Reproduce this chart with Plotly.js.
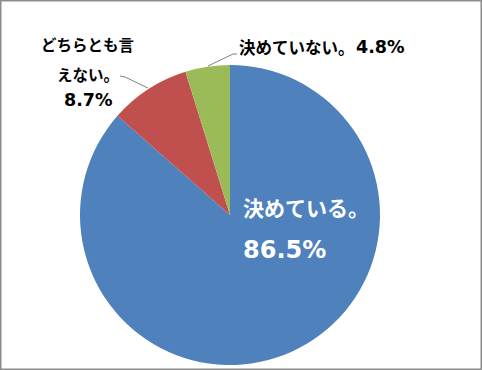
<!DOCTYPE html>
<html><head><meta charset="utf-8">
<script src="https://cdn.plot.ly/plotly-3.0.1.min.js"></script>
<style>html,body{margin:0;padding:0;background:#fff}#chart{width:482px;height:370px}</style>
</head><body><div id="chart"></div>
<script>
const categories = ["決めている。", "どちらとも言えない。", "決めていない。"];
const values = [86.5, 8.7, 4.8];
const colors = ["#4F81BD", "#C0504D", "#9BBB59"];
const W = 482, H = 370;
const px = x => x / W, py = y => 1 - y / H;
const JP = "Noto Sans CJK JP, sans-serif";
const NUM = "DejaVu Sans, Verdana, sans-serif";
const pct = v => v.toFixed(1) + "%";

const data = [{
  type: "pie",
  labels: categories,
  values: values,
  sort: false,
  direction: "clockwise",
  rotation: 0,
  textinfo: "none",
  hoverinfo: "label+percent",
  marker: {colors: colors, line: {width: 0}},
  domain: {x: [px(80), px(380)], y: [py(365), py(65)]},
  showlegend: false
}];

function ann(x, y, text, size, family, color, xanchor) {
  return {xref: "paper", yref: "paper", x: px(x), y: py(y), text: "<b>" + text + "</b>", showarrow: false,
    xanchor: xanchor || "center", yanchor: "middle",
    font: {family: family, size: size, color: color || "#000", weight: "bold"}};
}
const annotations = [
  ann(241, 207, categories[0], 21, JP, "#fff", "left"),
  ann(241, 250, pct(values[0]), 24, NUM, "#fff", "left"),
  ann(87, 44, "どちらとも言", 15.5, JP),
  ann(88, 74, "えない。", 15.5, JP),
  ann(88, 100, pct(values[1]), 17.5, NUM),
  ann(237, 47, categories[2], 16.5, JP, "#000", "left"),
  ann(354, 47, pct(values[2]), 17.5, NUM, "#000", "left")
];
const lineStyle = {color: "#808080", width: 1};
const shapes = [
  {type: "path", xref: "paper", yref: "paper", line: lineStyle,
   path: `M ${px(120)} ${py(76)} L ${px(125)} ${py(77)} L ${px(148)} ${py(88)}`},
  {type: "path", xref: "paper", yref: "paper", line: lineStyle,
   path: `M ${px(208)} ${py(66)} L ${px(233)} ${py(54)} L ${px(237)} ${py(54)}`},
  {type: "rect", xref: "paper", yref: "paper", x0: px(0.75), x1: px(481.25), y0: py(369.25), y1: py(0.75),
   line: {color: "#8c8c8c", width: 1.5}}
];
const layout = {
  width: W, height: H,
  margin: {l: 0, r: 0, t: 0, b: 0},
  paper_bgcolor: "#fff",
  annotations: annotations,
  shapes: shapes
};
Plotly.newPlot("chart", data, layout, {displayModeBar: false, staticPlot: true});
</script></body></html>
